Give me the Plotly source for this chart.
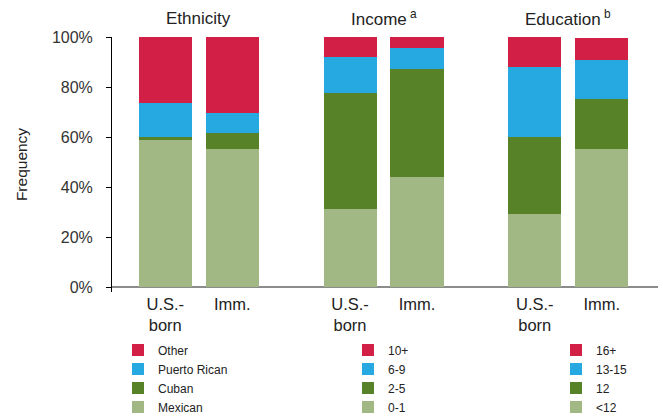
import plotly.graph_objects as go

# ---- data (percent of each bar) ----
groups = ["Ethnicity", "Income", "Education"]
group_titles = ["Ethnicity", "Income<sup> a</sup>", "Education<sup> b</sup>"]
bar_labels = ["U.S.-<br>born", "Imm."]
y_tickvals = [0, 20, 40, 60, 80, 100]
y_ticktext = ["0%", "20%", "40%", "60%", "80%", "100%"]

# categories listed bottom -> top
ethnicity_cats = ["Mexican", "Cuban", "Puerto Rican", "Other"]
ethnicity_us = [58.7, 1.2, 13.7, 26.4]
ethnicity_imm = [55.1, 6.4, 8.0, 30.5]

income_cats = ["0-1", "2-5", "6-9", "10+"]
income_us = [31.1, 46.4, 14.4, 8.1]
income_imm = [43.9, 43.2, 8.4, 4.5]

education_cats = ["<12", "12", "13-15", "16+"]
education_us = [29.1, 30.8, 28.0, 12.1]
education_imm = [55.1, 20.0, 15.6, 9.0]

colors = ["#A2B884", "#588228", "#26A9E0", "#D21F46"]

FONT = "Liberation Sans, Arial, Helvetica, sans-serif"

# layout helpers (positions only)
offset = 0.1813
bar_w = 0.287

fig = go.Figure()
sets = [
    (ethnicity_cats, ethnicity_us, ethnicity_imm, "legend"),
    (income_cats, income_us, income_imm, "legend2"),
    (education_cats, education_us, education_imm, "legend3"),
]
tickvals, ticktext = [], []
for gi, (cats, us, imm, leg) in enumerate(sets):
    xs = [gi - offset, gi + offset]
    tickvals += xs
    ticktext += bar_labels
    for ci, cat in enumerate(cats):
        fig.add_trace(go.Bar(
            x=xs, y=[us[ci], imm[ci]], width=bar_w, name=cat,
            marker=dict(color=colors[ci], line=dict(width=0)),
            legend=leg, showlegend=True,
        ))

for gi, t in enumerate(group_titles):
    fig.add_annotation(x=gi, xref="x", y=1.073, yref="paper", text=t,
                       showarrow=False, yanchor="middle", xanchor="center",
                       font=dict(family=FONT, size=17, color="#222"))

leg_common = dict(traceorder="reversed", orientation="v", yanchor="top",
                  xanchor="left", yref="container", xref="paper",
                  bgcolor="rgba(0,0,0,0)",
                  font=dict(family=FONT, size=12, color="#222"),
                  itemclick=False, itemdoubleclick=False)

fig.update_layout(
    width=663, height=416,
    margin=dict(l=112, r=5, t=36.7, b=124.3, autoexpand=False),
    barmode="stack",
    plot_bgcolor="white", paper_bgcolor="white",
    font=dict(family=FONT, color="#222"),
    legend=dict(x=0.011, y=0.1936, **leg_common),
    legend2=dict(x=0.4322, y=0.1936, **leg_common),
    legend3=dict(x=0.8132, y=0.1936, **leg_common),
    xaxis=dict(range=[-0.4696, 2.4858], tickvals=tickvals, ticktext=ticktext,
               automargin=False,
               showline=False, showgrid=False, zeroline=False, ticks="",
               tickfont=dict(family=FONT, size=16.5, color="#222")),
    yaxis=dict(range=[-2, 100], tickvals=y_tickvals, ticktext=y_ticktext,
               automargin=False,
               showgrid=False, showline=True, linecolor="black",
               linewidth=1, ticks="outside", ticklen=5, tickcolor="black",
               ticklabelstandoff=10,
               zeroline=True, zerolinecolor="#8c8c8c", zerolinewidth=2,
               tickfont=dict(family=FONT, size=16, color="#333"),
               title=dict(text="Frequency", standoff=20,
                          font=dict(family=FONT, size=15.5, color="#222"))),
)

fig.write_html("out.html", config={"displayModeBar": False},
               post_script="document.body.style.margin='0';document.body.style.overflow='hidden';")
